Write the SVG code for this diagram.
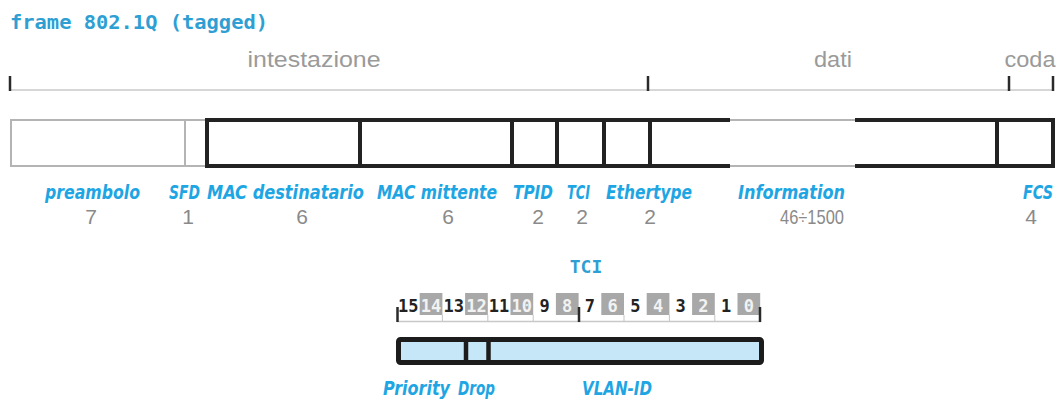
<svg xmlns="http://www.w3.org/2000/svg" width="1064" height="399" viewBox="0 0 1064 399">
<style>
.title{font-family:"DejaVu Sans Mono","Liberation Mono",monospace;font-weight:bold;fill:#2f9fd3}
.sec{font-family:"Liberation Sans",Arial,sans-serif;font-size:22px;fill:#9a9a9a;text-anchor:middle}
.lbl{font-family:"DejaVu Sans Condensed","Liberation Sans",sans-serif;font-weight:bold;font-style:italic;font-size:19px;fill:#1ea5e3}
.num{font-family:"Liberation Sans",Arial,sans-serif;font-size:21px;fill:#8a8a8a;text-anchor:middle}
.fld{stroke:#222;stroke-width:4;fill:#fff}
.blk{stroke:#222;stroke-width:4;fill:none}
.gry{stroke:#b4b4b4;stroke-width:2;fill:none}
.tick{stroke:#2a2a2a;stroke-width:2.5}
.rule{stroke:#c8c8c8;stroke-width:1.5}
.bo{font-family:"DejaVu Sans Mono","Liberation Mono",monospace;font-weight:bold;font-size:17px;fill:#222;text-anchor:middle}
.be{font-family:"DejaVu Sans Mono","Liberation Mono",monospace;font-weight:bold;font-size:17px;fill:#f2f2f2;text-anchor:middle}
.bbox{fill:#a8a8a8}
.thin{stroke:#c4c4c4;stroke-width:1}
</style>

<text class="title" x="10" y="29" font-size="19" textLength="258" lengthAdjust="spacingAndGlyphs">frame 802.1Q (tagged)</text>

<g id="sections">
<line class="rule" x1="10" y1="90" x2="1054" y2="90"/>
<line class="tick" x1="10" y1="76" x2="10" y2="91"/>
<line class="tick" x1="648" y1="76" x2="648" y2="91"/>
<line class="tick" x1="1009" y1="76" x2="1009" y2="91"/>
<line class="tick" x1="1053" y1="76" x2="1053" y2="91"/>
<text class="sec" x="314" y="67" textLength="133" lengthAdjust="spacingAndGlyphs">intestazione</text>
<text class="sec" x="833" y="67" textLength="38" lengthAdjust="spacingAndGlyphs">dati</text>
<text class="sec" x="1030" y="67" textLength="51" lengthAdjust="spacingAndGlyphs">coda</text>
</g>

<g id="preambolo">
<rect class="gry" x="11" y="120" width="174" height="46" fill="#fff"/>
<text class="lbl" x="45" y="199" textLength="95" lengthAdjust="spacingAndGlyphs">preambolo</text>
<text class="num" x="91" y="224">7</text>
</g>
<g id="sfd">
<rect class="gry" x="185" y="120" width="22" height="46" fill="#fff"/>
<text class="lbl" x="169" y="199" textLength="31" lengthAdjust="spacingAndGlyphs">SFD</text>
<text class="num" x="188" y="224">1</text>
</g>
<g id="mac-dest">
<rect class="fld" x="207" y="120" width="153" height="46"/>
<text class="lbl" x="207" y="199" textLength="157" lengthAdjust="spacingAndGlyphs">MAC destinatario</text>
<text class="num" x="302" y="224">6</text>
</g>
<g id="mac-mitt">
<rect class="fld" x="360" y="120" width="152" height="46"/>
<text class="lbl" x="377" y="199" textLength="120" lengthAdjust="spacingAndGlyphs">MAC mittente</text>
<text class="num" x="448" y="224">6</text>
</g>
<g id="tpid">
<rect class="fld" x="512" y="120" width="45" height="46" fill="#19b9f1"/>
<text class="lbl" x="513" y="199" textLength="40" lengthAdjust="spacingAndGlyphs">TPID</text>
<text class="num" x="538" y="224">2</text>
</g>
<g id="tci">
<rect class="fld" x="557" y="120" width="47" height="46" fill="#c6e7f8"/>
<text class="lbl" x="567" y="199" textLength="23" lengthAdjust="spacingAndGlyphs">TCI</text>
<text class="num" x="582" y="224">2</text>
</g>
<g id="ethertype">
<rect class="fld" x="604" y="120" width="46" height="46"/>
<text class="lbl" x="606" y="199" textLength="86" lengthAdjust="spacingAndGlyphs">Ethertype</text>
<text class="num" x="650" y="224">2</text>
</g>
<g id="information">
<rect x="650" y="120" width="347" height="46" fill="#fff"/>
<path class="blk" d="M650,120 H730 M855,120 H997 M650,166 H730 M855,166 H997 M650,118 V168 M997,118 V168"/>
<path class="gry" d="M730,120 H855 M730,166 H855"/>
<text class="lbl" x="738" y="199" textLength="107" lengthAdjust="spacingAndGlyphs">Information</text>
<text class="num" x="812" y="224" textLength="64" lengthAdjust="spacingAndGlyphs">46÷1500</text>
</g>
<g id="fcs">
<rect class="fld" x="997" y="120" width="56" height="46"/>
<text class="lbl" x="1023" y="199" textLength="30" lengthAdjust="spacingAndGlyphs">FCS</text>
<text class="num" x="1031" y="224">4</text>
</g>

<text class="title" x="586" y="273" font-size="18" text-anchor="middle">TCI</text>

<g id="bit-ruler">
<rect class="bbox" x="419.7" y="293" width="22.7" height="22"/>
<rect class="bbox" x="465.1" y="293" width="22.7" height="22"/>
<rect class="bbox" x="510.5" y="293" width="22.7" height="22"/>
<rect class="bbox" x="555.9" y="293" width="22.7" height="22"/>
<rect class="bbox" x="601.3" y="293" width="22.7" height="22"/>
<rect class="bbox" x="646.7" y="293" width="22.7" height="22"/>
<rect class="bbox" x="692.1" y="293" width="22.7" height="22"/>
<rect class="bbox" x="737.5" y="293" width="22.7" height="22"/>
<line class="rule" x1="397" y1="321.5" x2="761" y2="321.5"/>
<path class="thin" d="M442.4,315 V321 M487.8,315 V321 M533.2,315 V321 M624,315 V321 M669.4,315 V321 M714.8,315 V321"/>
<line class="tick" x1="397.5" y1="307" x2="397.5" y2="322"/>
<line class="tick" x1="579" y1="307" x2="579" y2="322"/>
<line class="tick" x1="760" y1="307" x2="760" y2="322"/>
<text class="bo" x="408.3" y="312">15</text>
<text class="be" x="431" y="312">14</text>
<text class="bo" x="453.7" y="312">13</text>
<text class="be" x="476.4" y="312">12</text>
<text class="bo" x="499.1" y="312">11</text>
<text class="be" x="521.8" y="312">10</text>
<text class="bo" x="544.5" y="312">9</text>
<text class="be" x="567.2" y="312">8</text>
<text class="bo" x="589.9" y="312">7</text>
<text class="be" x="612.6" y="312">6</text>
<text class="bo" x="635.3" y="312">5</text>
<text class="be" x="658" y="312">4</text>
<text class="bo" x="680.7" y="312">3</text>
<text class="be" x="703.4" y="312">2</text>
<text class="bo" x="726.1" y="312">1</text>
<text class="be" x="748.8" y="312">0</text>
</g>

<g id="tci-detail">
<rect x="398.5" y="339.5" width="363" height="23" rx="2" fill="#c6e7f8" stroke="#1c1c1c" stroke-width="5"/>
<line x1="466" y1="339" x2="466" y2="363" stroke="#1c1c1c" stroke-width="4.5"/>
<line x1="488.5" y1="339" x2="488.5" y2="363" stroke="#1c1c1c" stroke-width="4.5"/>
</g>
<g id="priority"><text class="lbl" x="383" y="395" textLength="67" lengthAdjust="spacingAndGlyphs">Priority</text></g>
<g id="drop"><text class="lbl" x="458" y="395" textLength="37" lengthAdjust="spacingAndGlyphs">Drop</text></g>
<g id="vlan-id"><text class="lbl" x="582" y="395" textLength="70" lengthAdjust="spacingAndGlyphs">VLAN-ID</text></g>
</svg>
